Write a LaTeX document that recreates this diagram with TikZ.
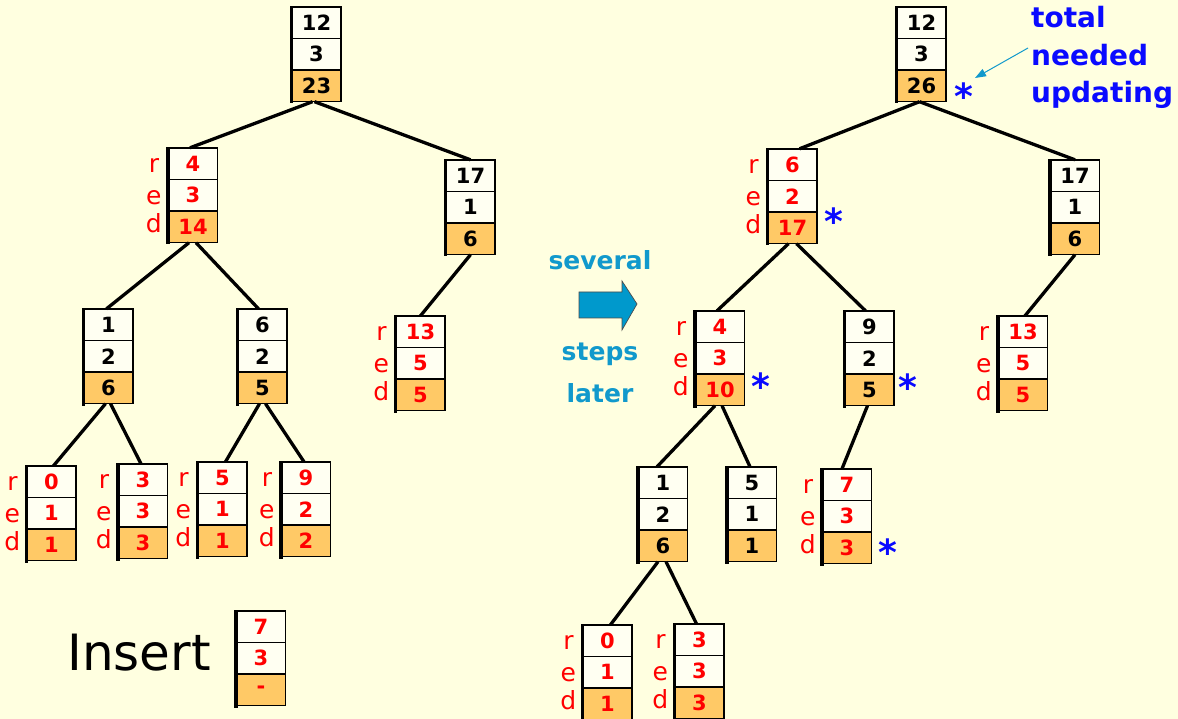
\documentclass[tikz,border=0pt]{standalone}
\usepackage{fontspec}
\setmainfont{DejaVu Sans}
\usetikzlibrary{arrows.meta}
\definecolor{bgc}{RGB}{255,255,224}
\definecolor{cellw}{RGB}{255,255,242}
\definecolor{cello}{RGB}{255,201,102}
\definecolor{redt}{RGB}{255,0,0}
\definecolor{starblue}{RGB}{10,10,255}
\definecolor{cyant}{RGB}{17,153,204}
\definecolor{arrowfill}{RGB}{0,153,204}
\tikzset{
  boxall/.style={minimum width=49pt,minimum height=94.5pt,inner sep=0pt,draw=none},
  cell/.style={draw=black,line width=1.2pt,minimum width=49pt,minimum height=31.5pt,inner sep=0pt,
    font=\fontsize{21}{24}\selectfont\bfseries},
  redlab/.style={text=redt,inner sep=0pt,anchor=base,font=\fontsize{25}{27}\selectfont},
  edge/.style={line width=3.3pt,black},
  starmark/.style={text=starblue,inner sep=0pt,anchor=base,font=\fontsize{36}{36}\selectfont\bfseries},
  cyantext/.style={text=cyant,inner sep=0pt,anchor=base,font=\fontsize{25}{27}\selectfont\bfseries},
  bluetext/.style={text=starblue,inner sep=0pt,anchor=base west,font=\fontsize{28}{30}\selectfont\bfseries},
}
% name, center x, top y, a, b, c, text colour
\newcommand\treebox[7]{%
  \node[boxall] (#1) at (#2,#3+47.25) {};
  \node[cell,fill=cellw,text=#7] (#1-1) at (#2,#3+15.75) {#4};
  \node[cell,fill=cellw,text=#7] (#1-2) at (#2,#3+47.25) {#5};
  \node[cell,fill=cello,text=#7] (#1-3) at (#2,#3+78.75) {#6};
  \draw[line width=3.5pt] ([xshift=-0.5pt,yshift=0.6pt]#1.north west) -- ([xshift=-0.5pt,yshift=-1.8pt]#1.south west);
}
\newcommand\redlabels[1]{%
  \node[redlab] (#1-r) at ([xshift=-14pt,yshift=-9pt]#1-1.west) {r};
  \node[redlab] (#1-e) at ([xshift=-14pt,yshift=-9pt]#1-2.west) {e};
  \node[redlab] (#1-d) at ([xshift=-14pt,yshift=-6pt]#1-3.west) {d};
}
\begin{document}
\begin{tikzpicture}[x=1pt,y=-1pt]
\fill[bgc] (0,0) rectangle (1178,719);
\useasboundingbox (0,0) rectangle (1178,719);

% ---------- left tree ----------
\treebox{L0}{316.5}{7}{12}{3}{23}{black}
\treebox{L1}{193}{148}{4}{3}{14}{redt}\redlabels{L1}
\treebox{L2}{470.5}{160}{17}{1}{6}{black}
\treebox{L3}{108.5}{309}{1}{2}{6}{black}
\treebox{L4}{262.5}{309}{6}{2}{5}{black}
\treebox{L5}{420.5}{316}{13}{5}{5}{redt}\redlabels{L5}
\treebox{L6}{51.5}{466}{0}{1}{1}{redt}\redlabels{L6}
\treebox{L7}{143}{464}{3}{3}{3}{redt}\redlabels{L7}
\treebox{L8}{222.5}{462}{5}{1}{1}{redt}\redlabels{L8}
\treebox{L9}{306}{462}{9}{2}{2}{redt}\redlabels{L9}

\draw[edge] ([xshift=-4pt]L0.south) -- ([xshift=-3pt]L1.north);
\draw[edge] ([xshift=-2pt]L0.south) -- (L2.north);
\draw[edge] ([xshift=-4pt]L1.south) -- ([xshift=-2pt]L3.north);
\draw[edge] ([xshift=3pt]L1.south) -- ([xshift=-4pt]L4.north);
\draw[edge] (L2.south) -- (L5.north);
\draw[edge] ([xshift=-3pt]L3.south) -- ([xshift=2pt]L6.north);
\draw[edge] ([xshift=2pt]L3.south) -- ([xshift=-2pt]L7.north);
\draw[edge] ([xshift=-3pt]L4.south) -- ([xshift=3pt]L8.north);
\draw[edge] ([xshift=3pt]L4.south) -- ([xshift=-2pt]L9.north);

% insert
\node[inner sep=0pt,anchor=base,font=\fontsize{50}{52}\selectfont] (ins) at (139,670) {Insert};
\treebox{IN}{261}{611}{7}{3}{-}{redt}

% ---------- arrow and text ----------
\node[cyantext] (sev) at (600,270) {several};
\node[cyantext] (stp) at (600,360) {steps};
\node[cyantext] (lat) at (600,402) {later};
\draw[fill=arrowfill,draw=black!70,line width=0.7pt]
  (579,292) -- (622,292) -- (622,281) -- (637,304) -- (622,330) -- (622,318) -- (579,318) -- cycle;

% ---------- right tree ----------
\treebox{R0}{921.5}{7}{12}{3}{26}{black}
\treebox{R1}{792.5}{149}{6}{2}{17}{redt}\redlabels{R1}
\treebox{R2}{1075}{160}{17}{1}{6}{black}
\treebox{R3}{720}{311}{4}{3}{10}{redt}\redlabels{R3}
\treebox{R4}{869.5}{311}{9}{2}{5}{black}
\treebox{R5}{1023}{316}{13}{5}{5}{redt}\redlabels{R5}
\treebox{R6}{663}{467}{1}{2}{6}{black}
\treebox{R7}{752}{467}{5}{1}{1}{black}
\treebox{R8}{847}{469}{7}{3}{3}{redt}\redlabels{R8}
\treebox{R9}{607.5}{625}{0}{1}{1}{redt}\redlabels{R9}
\treebox{R10}{699.5}{624}{3}{3}{3}{redt}\redlabels{R10}

\draw[edge] ([xshift=-2pt]R0.south) -- ([xshift=7pt]R1.north);
\draw[edge] ([xshift=-2pt]R0.south) -- (R2.north);
\draw[edge] ([xshift=-4pt]R1.south) -- ([xshift=-3pt]R3.north);
\draw[edge] ([xshift=4pt]R1.south) -- ([xshift=-4pt]R4.north);
\draw[edge] (R2.south) -- ([xshift=2pt]R5.north);
\draw[edge] ([xshift=-5pt]R3.south) -- ([xshift=-6pt]R6.north);
\draw[edge] ([xshift=2pt]R3.south) -- ([xshift=-2pt]R7.north);
\draw[edge] ([xshift=-2pt]R4.south) -- ([xshift=-5pt]R8.north);
\draw[edge] ([xshift=-5pt]R6.south) -- ([xshift=3pt]R9.north);
\draw[edge] ([xshift=3pt]R6.south) -- ([xshift=-3pt]R10.north);

% stars
\node[starmark] (s0) at (964,110) {*};
\node[starmark] (s1) at (834,235) {*};
\node[starmark] (s3) at (761,399) {*};
\node[starmark] (s4) at (908,400) {*};
\node[starmark] (s8) at (888,565) {*};

% total needed updating
\node[bluetext] (tot1) at (1031,28) {total};
\node[bluetext] (tot2) at (1031,66) {needed};
\node[bluetext] (tot3) at (1031,103) {updating};
\coordinate (a1) at (1028,48);
\coordinate (a2) at (975,78);
\draw[cyant,line width=1pt,-{Triangle[length=11pt,width=8pt]}] (a1) -- (a2);
\end{tikzpicture}
\end{document}
